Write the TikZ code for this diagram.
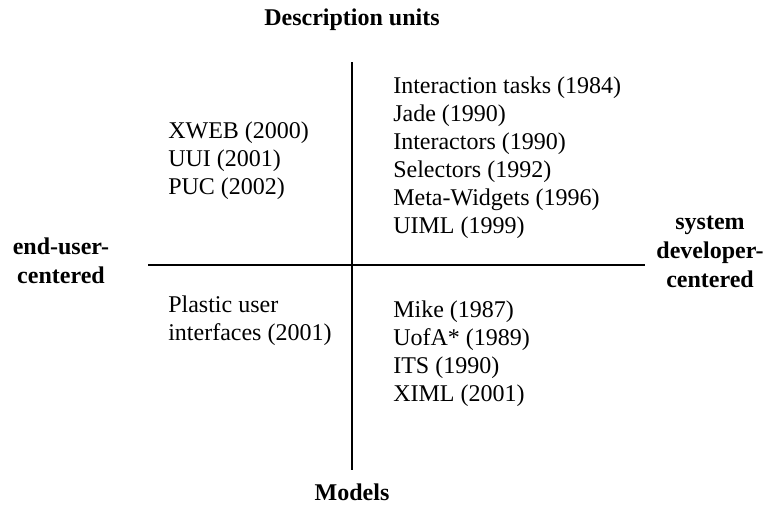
\documentclass[tikz,border=0pt]{standalone}
\usepackage{fontspec}
\setmainfont{Liberation Serif}
\usepackage{tikz}
\usetikzlibrary{positioning}

\begin{document}
\begin{tikzpicture}[x=0.75pt, y=-0.75pt,
    font=\fontsize{18}{21}\selectfont,
    item/.style={align=left, anchor=west, inner sep=0pt},
    axislabel/.style={align=center, font=\fontsize{18}{21.5}\selectfont\bfseries, inner sep=0pt},
    axis/.style={line width=0.9pt}]
  \useasboundingbox (0,0) rectangle (770,504);
  % the two axes
  \coordinate (vtop) at (352,62);
  \coordinate (vbot) at (352,470);
  \coordinate (hleft) at (148,265);
  \coordinate (hright) at (645,265);
  \draw[axis] (vtop) -- (vbot);
  \draw[axis] (hleft) -- (hright);
  % axis labels
  \node[axislabel] (units) at (352,20) {Description units};
  \node[axislabel] (models) at (352,492) {Models};
  \node[axislabel] (enduser) at (61,261) {end-user-\\centered};
  \node[axislabel] (sysdev) at (710,252) {system\\developer-\\centered};
  % quadrants
  \node[item] (unitsuser) at (168,161)
    {XWEB (2000)\\UUI (2001)\\PUC (2002)};
  \node[item] (unitsdev) at (393,158)
    {Interaction tasks (1984)\\Jade (1990)\\Interactors (1990)\\Selectors (1992)\\Meta-Widgets (1996)\\UIML (1999)};
  \node[item] (modelsuser) at (168,321)
    {Plastic user\\interfaces (2001)};
  \node[item] (modelsdev) at (393,353.5)
    {Mike (1987)\\UofA* (1989)\\ITS (1990)\\XIML (2001)};
\end{tikzpicture}
\end{document}
